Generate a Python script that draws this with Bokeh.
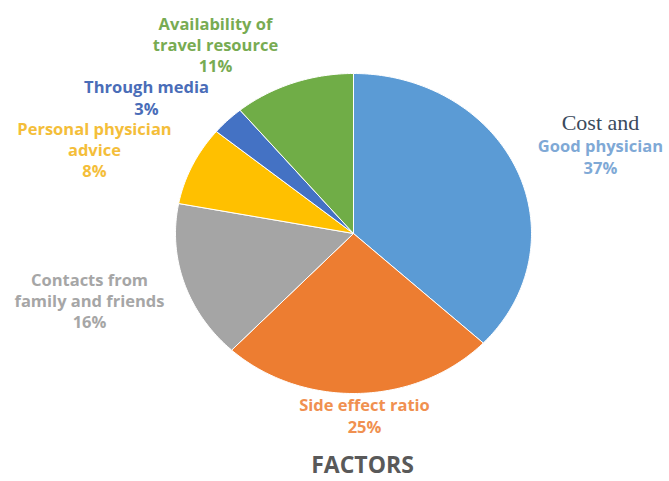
import numpy as np
from bokeh.plotting import figure
from bokeh.models import Range1d, ColumnDataSource
from bokeh.core.properties import value
from bokeh.embed import file_html
from bokeh.resources import INLINE

# ---- data ----
categories = ["Cost and Good physician", "Side effect ratio", "Contacts from family and friends",
              "Personal physician advice", "Through media", "Availability of travel resource"]
percents = [37, 25, 16, 8, 3, 11]
slice_colors = ["#5B9BD5", "#ED7D31", "#A5A5A5", "#FFC000", "#4472C4", "#70AD47"]
label_texts = ["Good physician", "Side effect ratio", "Contacts from\nfamily and friends",
               "Personal physician\nadvice", "Through media", "Availability of\ntravel resource"]
label_colors = ["#7FA9D6", "#F09050", "#A6A6A6", "#F4BE3A", "#4A6DB8", "#78AB52"]
title_text = "FACTORS"

# ---- layout (image pixel coordinates) ----
W, H = 669, 481
cx, cy, rx, ry = 353, 233, 178, 160
label_pos = [(600, 156), (364, 415), (89, 300), (94, 149), (146, 97), (215, 44)]

p = figure(width=W, height=H, output_backend="svg", toolbar_location=None,
           x_range=Range1d(0, W), y_range=Range1d(H, 0),
           min_border=0, outline_line_color=None)
p.axis.visible = False
p.grid.visible = False

# pie slices drawn clockwise from 12 o'clock, on an elliptical pie
fr = np.array(percents, dtype=float) / sum(percents)
ends = np.cumsum(fr)
starts = ends - fr
xs, ys = [], []
for s, e in zip(starts, ends):
    t = np.linspace(s, e, max(int((e - s) * 400), 4)) * 2 * np.pi
    xs.append([cx] + list(cx + rx * np.sin(t)) + [cx])
    ys.append([cy] + list(cy - ry * np.cos(t)) + [cy])
p.patches(xs=xs, ys=ys, fill_color=slice_colors, line_color="white", line_width=1)

# labels
texts = [f"{t}\n{v}%" for t, v in zip(label_texts, percents)]
src = ColumnDataSource(dict(x=[q[0] for q in label_pos], y=[q[1] for q in label_pos],
                            text=texts, color=label_colors))
p.text(x="x", y="y", text="text", source=src, text_color="color",
       text_font=value("Open Sans"), text_font_style="bold", text_font_size="16.5px",
       text_align="center", text_baseline="middle", text_line_height=0.93)

p.text(x=[600], y=[122], text=["Cost and"], text_color="#3A4A5C",
       text_font=value("Liberation Serif"), text_font_size="22px",
       text_align="center", text_baseline="middle")

p.text(x=[362], y=[463], text=[title_text], text_color="#595959",
       text_font=value("Open Sans"), text_font_style="bold", text_font_size="23px",
       text_align="center", text_baseline="middle")

open("out.html", "w").write(file_html(p, INLINE))
